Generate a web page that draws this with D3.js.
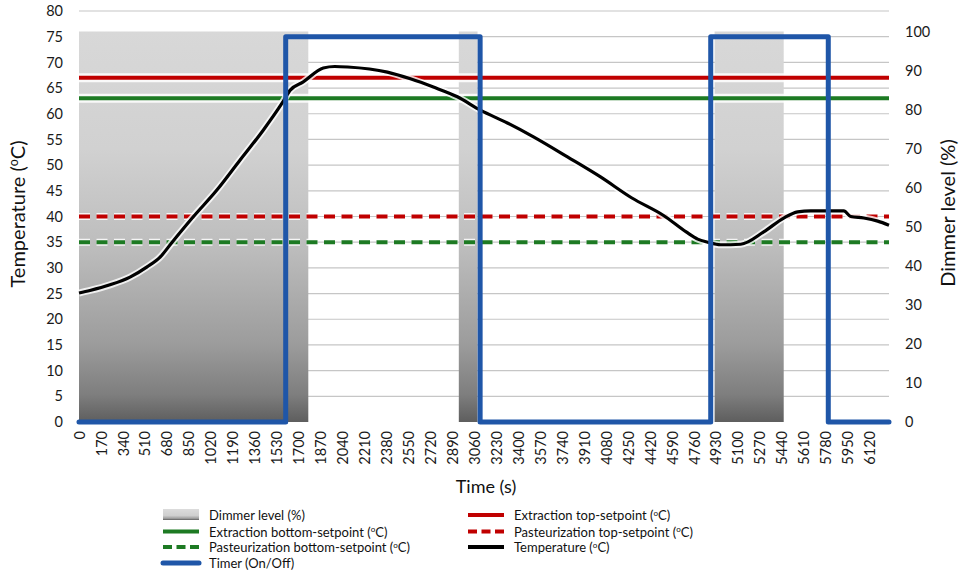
<!DOCTYPE html>
<html>
<head>
<meta charset="utf-8">
<script src="https://cdn.jsdelivr.net/npm/d3@7/dist/d3.min.js"></script>
<style>
  html, body { margin: 0; padding: 0; background: #fff; }
  svg { display: block; font-family: Lato, "Open Sans", sans-serif; }
</style>
</head>
<body>
<svg id="chart" width="967" height="582"></svg>
<script>
// ---------------- DATA ----------------
const xTickLabels = [0,170,340,510,680,850,1020,1190,1360,1530,1700,1870,2040,2210,2380,2550,2720,2890,3060,3230,3400,3570,3740,3910,4080,4250,4420,4590,4760,4930,5100,5270,5440,5610,5780,5950,6120];
const yLeftTicks = [0,5,10,15,20,25,30,35,40,45,50,55,60,65,70,75,80];
const yRightTicks = [0,10,20,30,40,50,60,70,80,90,100];

// Temperature readings (time s, °C)
const tempTime  = [0, 85, 240, 395, 527, 628, 721, 883, 1069, 1247, 1426, 1573, 1635, 1736, 1891, 1980, 2080, 2387, 2565, 2743, 2929, 3107, 3316, 3518, 3781, 4037, 4280, 4525, 4700, 4789, 4866, 4967, 5122, 5300, 5455, 5563, 5664, 5920, 5974, 6075, 6183, 6270];
const tempValue = [25.1, 25.6, 26.7, 28.2, 30.2, 32.1, 35.0, 39.9, 45.2, 51.0, 56.8, 62.1, 64.6, 66.2, 68.9, 69.2, 69.1, 68.1, 66.8, 65.2, 63.3, 60.7, 58.2, 55.5, 51.6, 47.7, 43.6, 40.2, 37.0, 35.6, 35.0, 34.5, 34.6, 37.0, 39.7, 40.9, 41.1, 41.1, 40.0, 39.7, 39.1, 38.3];

// Dimmer level (%) on-periods
const dimmerStart = [0, 2940, 4920];
const dimmerEnd   = [1775, 3085, 5455];
const dimmerLevel = [100, 100, 100];

// Timer (On/Off), plotted on the temperature axis
const timerTime  = [0, 1600, 1600, 3105, 3105, 4890, 4890, 5800, 5800, 6270];
const timerValue = [0, 0, 75, 75, 0, 0, 75, 75, 0, 0];

// Setpoints (°C)
const extractionTop = 67;
const extractionBottom = 63;
const pasteurizationTop = 40;
const pasteurizationBottom = 35;

const timeDomain = [0, 6270];

// ---------------- CHART ----------------
const svg = d3.select("#chart");
const L = 79, R = 889, T = 11, B = 422;

const x = d3.scaleLinear().domain(timeDomain).range([L, R]);
const yL = d3.scaleLinear().domain([0, 80]).range([B, T]);
const yR = d3.scaleLinear().domain([0, 100]).range([B, 31.5]);

const RED = "#c00000", GREEN = "#1d7a23", BLUE = "#1f56a8";

const defs = svg.append("defs");
const grad = defs.append("linearGradient").attr("id", "dimGrad")
  .attr("gradientUnits", "userSpaceOnUse").attr("x1", 0).attr("x2", 0)
  .attr("y1", yR(100)).attr("y2", yR(0));
[[0, "#d8d8d8"], [0.3, "#d1d1d1"], [0.56, "#bcbcbc"], [0.8, "#9c9c9c"], [0.93, "#7e7e7e"], [1, "#5e5e5e"]]
  .forEach(([o, c]) => grad.append("stop").attr("offset", o).attr("stop-color", c));
const grad2 = defs.append("linearGradient").attr("id", "dimGradLeg")
  .attr("x1", 0).attr("x2", 0).attr("y1", 0).attr("y2", 1);
[[0, "#dcdcdc"], [0.6, "#cfcfcf"], [0.85, "#a0a0a0"], [1, "#5e5e5e"]]
  .forEach(([o, c]) => grad2.append("stop").attr("offset", o).attr("stop-color", c));

// gridlines
svg.append("g").selectAll("line").data(yLeftTicks.filter(d => d > 0)).join("line")
  .attr("x1", L).attr("x2", R)
  .attr("y1", d => yL(d)).attr("y2", d => yL(d))
  .attr("stroke", "#c6c6c6").attr("stroke-width", 1.2);

// dimmer bands
const area = d3.area().x(d => x(d.t)).y0(yR(0)).y1(d => yR(d.v));
dimmerStart.forEach((s, i) => {
  svg.append("path")
    .datum([{ t: s, v: dimmerLevel[i] }, { t: dimmerEnd[i], v: dimmerLevel[i] }])
    .attr("d", area).attr("fill", "url(#dimGrad)");
});

// setpoint lines
const hline = (v) => d3.line().x(d => x(d)).y(() => yL(v))(timeDomain);
function setpoint(v, color, dashed) {
  svg.append("path").attr("d", hline(v)).attr("fill", "none")
    .attr("stroke", "#fff").attr("stroke-opacity", 0.85)
    .attr("stroke-width", dashed ? 7 : 9)
    .attr("stroke-dasharray", dashed ? "11,6.5" : null);
  svg.append("path").attr("d", hline(v)).attr("fill", "none")
    .attr("stroke", color).attr("stroke-width", 4)
    .attr("stroke-dasharray", dashed ? "11,6.5" : null);
}
setpoint(extractionTop, RED, false);
setpoint(extractionBottom, GREEN, false);
setpoint(pasteurizationTop, RED, true);
setpoint(pasteurizationBottom, GREEN, true);

// temperature
const tempData = tempTime.map((t, i) => ({ t, v: tempValue[i] }));
const tline = d3.line().x(d => x(d.t)).y(d => yL(d.v)).curve(d3.curveMonotoneX);
svg.append("path").datum(tempData).attr("d", tline).attr("fill", "none")
  .attr("stroke", "#fff").attr("stroke-opacity", 0.8).attr("stroke-width", 7);
svg.append("path").datum(tempData).attr("d", tline).attr("fill", "none")
  .attr("stroke", "#000").attr("stroke-width", 3.2).attr("stroke-linejoin", "round");

// timer
const timerData = timerTime.map((t, i) => ({ t, v: timerValue[i] }));
svg.append("path").datum(timerData)
  .attr("d", d3.line().x(d => x(d.t)).y(d => yL(d.v)))
  .attr("fill", "none").attr("stroke", BLUE).attr("stroke-width", 5)
  .attr("stroke-linejoin", "round").attr("stroke-linecap", "round");

// axes
const axL = svg.append("g").attr("transform", `translate(${L},0)`)
  .call(d3.axisLeft(yL).tickValues(yLeftTicks).tickSize(0).tickPadding(16));
const axR = svg.append("g").attr("transform", `translate(${R},0)`)
  .call(d3.axisRight(yR).tickValues(yRightTicks).tickSize(0).tickPadding(16));
const axB = svg.append("g").attr("transform", `translate(0,${B})`)
  .call(d3.axisBottom(x).tickValues(xTickLabels).tickSize(0).tickFormat(d3.format("d")));
axB.selectAll("text").attr("transform", "rotate(-90)")
  .attr("x", -9).attr("y", 0).attr("dy", "0.35em").style("text-anchor", "end");
[axL, axR, axB].forEach(a => {
  a.select(".domain").remove();
  a.selectAll("text").attr("fill", "#1a1a1a").style("font-size", "14.5px")
    .style("font-family", "Lato, 'Open Sans', sans-serif");
});

// axis titles
function degText(sel, before, after) {
  sel.append("tspan").text(before);
  sel.append("tspan").text("o").attr("font-size", "0.62em").attr("dy", "-0.55em");
  sel.append("tspan").text(after).attr("dy", "0.34em");
}
const tl = svg.append("text").attr("transform", "translate(25,214) rotate(-90)")
  .attr("text-anchor", "middle").attr("font-size", 20).attr("fill", "#111");
degText(tl, "Temperature (", "C)");
svg.append("text").attr("transform", "translate(955,213) rotate(-90)")
  .attr("text-anchor", "middle").attr("font-size", 20).attr("fill", "#111")
  .text("Dimmer level (%)");
svg.append("text").attr("x", 486).attr("y", 493).attr("text-anchor", "middle")
  .attr("font-size", 18).attr("fill", "#111").text("Time (s)");

// legend
const legendItems = [
  { label: ["Dimmer level (%)"], type: "area", col: 0, row: 0 },
  { label: ["Extraction top-setpoint (", "C)"], type: "line", color: RED, col: 1, row: 0 },
  { label: ["Extraction bottom-setpoint (", "C)"], type: "line", color: GREEN, col: 0, row: 1 },
  { label: ["Pasteurization top-setpoint (", "C)"], type: "dash", color: RED, col: 1, row: 1 },
  { label: ["Pasteurization bottom-setpoint (", "C)"], type: "dash", color: GREEN, col: 0, row: 2 },
  { label: ["Temperature (", "C)"], type: "line", color: "#000", col: 1, row: 2 },
  { label: ["Timer (On/Off)"], type: "timer", color: BLUE, col: 0, row: 3 }
];
const colX = [163, 468], rowY = [515, 531.5, 547, 563];
legendItems.forEach(it => {
  const g = svg.append("g").attr("transform", `translate(${colX[it.col]},${rowY[it.row]})`);
  if (it.type === "area") {
    g.append("rect").attr("x", 0).attr("y", -6).attr("width", 36).attr("height", 11)
      .attr("fill", "url(#dimGradLeg)");
  } else {
    g.append("line").attr("x1", 0).attr("x2", 36).attr("y1", 0).attr("y2", 0)
      .attr("stroke", it.color).attr("stroke-width", it.type === "timer" ? 5 : 4)
      .attr("stroke-linecap", it.type === "timer" ? "round" : "butt")
      .attr("stroke-dasharray", it.type === "dash" ? "9,4.5" : null);
  }
  const t = g.append("text").attr("x", 46).attr("y", 5).attr("font-size", 13).attr("fill", "#111");
  if (it.label.length === 2) degText(t, it.label[0], it.label[1]);
  else t.text(it.label[0]);
});
</script>
</body>
</html>
